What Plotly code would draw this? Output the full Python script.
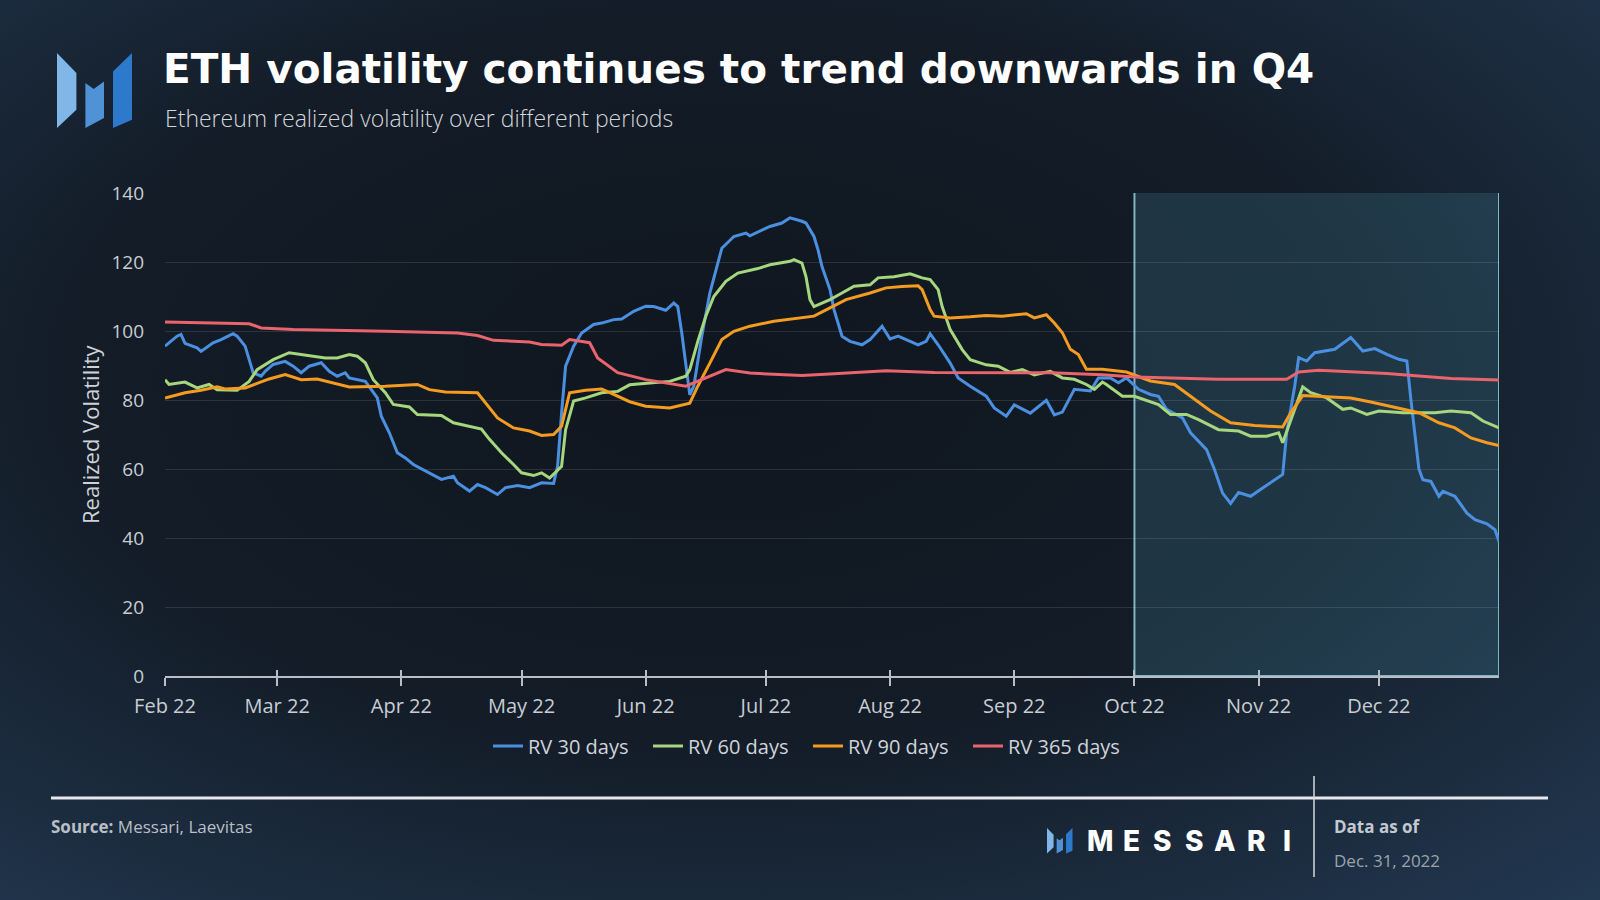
import base64
import pandas as pd
import plotly.graph_objects as go

# ---------------- data (days since 2022-02-01, realized volatility) ----------------
BASE_DATE = "2022-02-01"

rv30_days = [0, 3, 4, 5, 8, 9, 12, 14, 17, 18, 20, 21, 22, 24, 25, 27, 30, 32, 34, 36, 39, 41, 43, 45, 46,
             50, 52, 53, 54, 56, 58, 60, 62, 66, 69, 72, 73, 76, 78, 80, 83, 85, 88, 91, 94, 97, 98, 99,
             100, 102, 104, 107, 109, 112, 114, 117, 120, 122, 125, 127, 128, 129, 130, 131, 132, 134,
             136, 139, 142, 145, 146, 151, 154, 156, 159, 160, 162, 163, 164, 166, 167, 169, 171, 174,
             176, 179, 181, 183, 186, 188, 190, 191, 193, 196, 198, 201, 205, 207, 210, 212, 216, 220,
             222, 224, 227, 231, 233, 236, 238, 240, 243, 246, 248, 250, 254, 256, 260, 262, 264, 266,
             268, 271, 274, 277, 279, 280, 282, 283, 285, 287, 292, 296, 299, 302, 305, 308, 310, 311,
             312, 313, 314, 316, 318, 319, 322, 325, 327, 330, 332, 333]
rv30 = [95.6, 98.5, 99.0, 96.4, 95.1, 94.1, 96.6, 97.5, 99.2, 98.5, 95.6, 91.7, 87.9, 86.9, 88.3, 90.3,
        91.2, 89.8, 87.9, 89.8, 90.8, 88.3, 86.9, 87.9, 86.4, 85.4, 82.1, 80.6, 75.3, 70.5, 64.7, 63.2,
        61.3, 58.9, 57.0, 57.9, 56.0, 53.6, 55.5, 54.6, 52.6, 54.6, 55.2, 54.6, 56.0, 55.8, 60.8, 76.3,
        89.8, 95.6, 99.4, 101.9, 102.3, 103.3, 103.5, 105.7, 107.2, 107.1, 106.0, 108.1, 107.1, 99.4,
        89.8, 81.5, 84.0, 98.5, 111.0, 124.0, 127.4, 128.4, 127.6, 130.3, 131.3, 132.8, 131.8, 131.3,
        127.4, 123.6, 118.7, 112.0, 106.2, 98.5, 97.0, 96.0, 97.5, 101.4, 97.7, 98.5, 97.0, 96.0, 97.0,
        99.2, 96.0, 90.7, 86.4, 84.0, 81.1, 77.7, 75.3, 78.6, 76.2, 79.9, 75.7, 76.5, 83.1, 82.6, 86.4,
        86.4, 85.0, 86.4, 83.1, 81.6, 81.1, 77.3, 74.8, 70.5, 65.6, 59.8, 53.0, 50.0, 53.2, 52.1, 54.5,
        56.9, 58.4, 70.5, 84.0, 92.3, 91.3, 93.7, 94.7, 98.1, 94.2, 94.9, 93.2, 91.8, 91.3, 80.2, 70.0,
        60.0, 56.9, 56.4, 52.1, 53.5, 52.1, 47.2, 45.3, 44.1, 42.4, 39.0]

rv60_days = [0, 1, 5, 8, 11, 13, 18, 21, 23, 27, 31, 36, 40, 43, 46, 48, 50, 52, 55, 57, 61, 63, 69, 72,
             76, 79, 81, 84, 87, 89, 92, 94, 96, 99, 100, 102, 105, 109, 113, 116, 121, 126, 130, 131,
             133, 135, 137, 140, 143, 148, 151, 156, 157, 159, 160, 161, 162, 166, 169, 172, 176, 178,
             182, 186, 189, 191, 193, 194, 196, 199, 201, 205, 208, 211, 214, 217, 221, 224, 227, 230,
             232, 234, 235, 239, 242, 245, 248, 251, 255, 258, 263, 268, 271, 275, 278, 279, 281, 284,
             286, 290, 294, 296, 300, 303, 309, 317, 321, 326, 329, 333]
rv60 = [85.9, 84.5, 85.2, 83.5, 84.5, 83.0, 82.8, 85.4, 88.8, 91.7, 93.7, 92.9, 92.2, 92.2, 93.2, 92.7,
        90.8, 85.9, 82.1, 78.7, 78.0, 75.8, 75.5, 73.4, 72.4, 71.6, 68.6, 64.7, 61.3, 58.9, 58.1, 58.9,
        57.4, 60.8, 71.4, 79.7, 80.6, 82.1, 82.5, 84.4, 84.9, 85.4, 86.9, 88.8, 97.0, 104.3, 110.0,
        114.4, 116.8, 118.1, 119.2, 120.2, 120.7, 119.7, 115.8, 109.1, 107.1, 109.1, 111.0, 113.0,
        113.4, 115.4, 115.7, 116.6, 115.4, 114.9, 112.0, 107.1, 100.4, 94.6, 91.7, 90.2, 89.8, 88.0,
        88.8, 87.3, 88.3, 86.4, 86.0, 84.5, 83.1, 85.2, 84.5, 81.1, 81.1, 80.0, 78.7, 75.8, 75.8, 74.3,
        71.4, 71.0, 69.5, 69.5, 70.5, 67.6, 74.3, 83.8, 82.1, 80.6, 77.3, 77.7, 75.8, 76.8, 76.3, 76.3,
        76.8, 76.3, 73.9, 71.9]

rv90_days = [0, 5, 9, 13, 15, 20, 23, 26, 30, 34, 38, 42, 46, 55, 63, 66, 70, 78, 80, 83, 87, 91, 94,
             97, 99, 101, 105, 109, 112, 116, 120, 126, 131, 133, 136, 139, 142, 146, 152, 159, 162, 166,
             170, 176, 180, 184, 188, 189, 191, 192, 196, 201, 205, 209, 215, 217, 220, 222, 224, 226,
             228, 230, 234, 240, 243, 246, 252, 256, 261, 266, 272, 279, 281, 284, 288, 296, 301, 305,
             309, 313, 318, 322, 326, 330, 333]
rv90 = [80.6, 82.1, 82.8, 83.8, 83.2, 83.5, 84.8, 86.1, 87.4, 85.9, 86.1, 85.0, 83.8, 84.0, 84.5, 83.0,
        82.3, 82.1, 79.2, 74.8, 71.9, 71.0, 69.7, 70.0, 72.4, 82.1, 82.8, 83.2, 81.6, 79.5, 78.2, 77.7,
        79.1, 84.0, 90.7, 97.5, 99.9, 101.4, 102.8, 103.8, 104.3, 106.7, 109.1, 111.0, 112.5, 112.9,
        113.1, 112.0, 106.2, 104.3, 103.8, 104.1, 104.5, 104.3, 105.0, 103.8, 104.7, 102.3, 99.5, 94.7,
        93.2, 88.9, 88.9, 88.1, 86.9, 85.5, 84.5, 81.1, 76.8, 73.4, 72.6, 72.2, 76.3, 81.3, 81.1, 80.6,
        79.4, 78.4, 77.3, 76.3, 73.4, 71.9, 69.0, 67.6, 66.8]

rv365_days = [0, 21, 24, 32, 55, 73, 78, 82, 91, 94, 99, 101, 106, 108, 113, 120, 130, 134, 140, 146,
              159, 167, 180, 192, 209, 221, 234, 242, 263, 280, 283, 288, 305, 321, 333]
rv365 = [102.6, 102.1, 100.9, 100.4, 99.9, 99.4, 98.7, 97.3, 96.8, 96.1, 95.9, 97.5, 96.6, 92.2, 87.9,
         85.9, 84.0, 85.9, 88.8, 87.8, 87.1, 87.6, 88.5, 88.0, 88.0, 87.9, 87.3, 86.7, 86.0, 86.0, 88.1,
         88.6, 87.7, 86.2, 85.8]

series_names = ["RV 30 days", "RV 60 days", "RV 90 days", "RV 365 days"]
series_colors = ["#4b8fe0", "#a6d67d", "#f59b20", "#e9646d"]

y_ticks = [0, 20, 40, 60, 80, 100, 120, 140]
highlight_start, highlight_end = "2022-10-01", "2022-12-31"

TITLE = "ETH volatility continues to trend downwards in Q4"
SUBTITLE = "Ethereum realized volatility over different periods"

# ---------------- layout geometry ----------------
W, H = 1600, 900
ML, MR, MT, MB = 165, 101, 193, 224
PW, PH = W - ML - MR, H - MT - MB


def px(x):
    return (x - ML) / PW


def py(y):
    return (H - MB - y) / PH


def to_dates(days):
    return pd.Timestamp(BASE_DATE) + pd.to_timedelta(days, unit="D")


fig = go.Figure()
for days, vals, name, col in zip([rv30_days, rv60_days, rv90_days, rv365_days],
                                 [rv30, rv60, rv90, rv365], series_names, series_colors):
    fig.add_trace(go.Scatter(x=to_dates(days), y=vals, name=name, mode="lines",
                             line=dict(color=col, width=3), hoverinfo="skip"))

# background gradient
svg = ("<svg xmlns='http://www.w3.org/2000/svg' width='1600' height='900'>"
       "<defs><radialGradient id='g' cx='0.45' cy='0.42' r='0.8'>"
       "<stop offset='0' stop-color='#0f161f'/><stop offset='0.5' stop-color='#131c27'/>"
       "<stop offset='1' stop-color='#223851'/></radialGradient></defs>"
       "<rect width='1600' height='900' fill='url(#g)'/></svg>")
bg_src = "data:image/svg+xml;base64," + base64.b64encode(svg.encode()).decode()
fig.add_layout_image(dict(source=bg_src, xref="paper", yref="paper", x=px(0), y=py(0),
                          sizex=W / PW, sizey=H / PH, xanchor="left", yanchor="top",
                          sizing="stretch", layer="below"))

shapes = []
# highlighted Q4 region
shapes.append(dict(type="rect", xref="x", yref="y", x0=highlight_start, x1=highlight_end,
                   y0=0, y1=140.5, fillcolor="rgba(70,140,165,0.24)",
                   line=dict(color="rgba(140,195,205,0.9)", width=2), layer="below"))


def logo_paths(ox, oy, s):
    pieces = [
        ([(0, 0), (19.4, 20), (19.4, 56.7), (0, 75)], "#80b7e8"),
        ([(28.4, 30), (36.7, 36), (47, 28.4), (47, 65), (28.4, 75)], "#4f93d6"),
        ([(56, 18.4), (75, 0), (75, 66.7), (56, 75)], "#2d79cc"),
    ]
    out = []
    for pts, col in pieces:
        d = "M " + " L ".join(f"{px(ox + x * s):.5f},{py(oy + y * s):.5f}" for x, y in pts) + " Z"
        out.append(dict(type="path", xref="paper", yref="paper", path=d, fillcolor=col,
                        line=dict(width=0), layer="above"))
    return out


shapes += logo_paths(57, 53, 1.0)
shapes += logo_paths(1047, 828, 0.34)

# footer lines
shapes.append(dict(type="line", xref="paper", yref="paper", x0=px(51), x1=px(1548), y0=py(798), y1=py(798),
                   line=dict(color="#e6e8eb", width=3)))
shapes.append(dict(type="line", xref="paper", yref="paper", x0=px(1314), x1=px(1314), y0=py(776), y1=py(877),
                   line=dict(color="#d4d8dc", width=1.5)))

annotations = []


def add_text(text, x, y, size, color, xanchor="left", yanchor="middle", family="Open Sans", weight=None,
             angle=0):
    f = dict(size=size, color=color, family=family)
    if weight:
        f["weight"] = weight
    annotations.append(dict(text=text, x=px(x), y=py(y), xref="paper", yref="paper", showarrow=False,
                            xanchor=xanchor, yanchor=yanchor, font=f, textangle=angle))


add_text(TITLE, 161, 69, 40.5, "#ffffff", family="DejaVu Sans", weight=700)
add_text(SUBTITLE, 163, 118, 23, "#d3d7dc", weight=300)
add_text("Realized Volatility", 90, 434, 22, "#cdd2d8", xanchor="center", angle=-90)
add_text("<b>Source:</b> Messari, Laevitas", 49, 826, 17, "#b9bfc7")
add_text("<b>Data as of</b>", 1332, 826, 17, "#c3c9d0")
add_text("Dec. 31, 2022", 1332, 860, 17, "#9ba4ae")
for letter, lx in zip("MESSARI", [1100, 1131, 1162, 1194, 1225, 1256, 1287]):
    add_text(letter, lx, 841, 28, "#ffffff", xanchor="center", family="Inter", weight=800)

fig.update_layout(
    width=W, height=H,
    margin=dict(l=ML, r=MR, t=MT, b=MB, autoexpand=False),
    paper_bgcolor="#141d28", plot_bgcolor="rgba(0,0,0,0)",
    font=dict(family="Open Sans", color="#c8cdd4", size=19),
    showlegend=True,
    legend=dict(orientation="h", x=px(808), y=py(746), xanchor="center", yanchor="middle",
                font=dict(size=20, color="#d0d4da"), bgcolor="rgba(0,0,0,0)", itemwidth=30,
                entrywidth=115, entrywidthmode="pixels", traceorder="normal"),
    xaxis=dict(type="date", range=[to_dates([0])[0], pd.Timestamp(highlight_end)],
               tickformat="%b %y", dtick="M1", tick0=BASE_DATE, ticks="outside", ticklen=8,
               tickwidth=1.5, tickcolor="#b8bec6", showline=True, linecolor="#b8bec6", linewidth=2,
               showgrid=False, zeroline=False, tickfont=dict(size=20, color="#c8cdd4"),
               ticklabelstandoff=3),
    xaxis2=dict(type="date", overlaying="x", anchor="y", matches="x", ticks="inside", ticklen=6,
                tickwidth=1.5, tickcolor="#b8bec6", dtick="M1", tick0=BASE_DATE,
                showticklabels=False, showgrid=False, showline=False, zeroline=False),
    yaxis=dict(range=[0, 140], tickvals=y_ticks, showgrid=True, gridcolor="rgba(255,255,255,0.11)",
               gridwidth=1, zeroline=False, showline=False, ticks="",
               tickfont=dict(size=19, color="#c8cdd4"), ticklabelstandoff=20),
    shapes=shapes, annotations=annotations,
)
fig.add_trace(go.Scatter(x=to_dates([0]), y=[None], xaxis="x2", yaxis="y", showlegend=False,
                         hoverinfo="skip"))

fig.write_html("out.html", config={"displayModeBar": False},
               post_script="document.body.style.margin='0';document.body.style.overflow='hidden';")
